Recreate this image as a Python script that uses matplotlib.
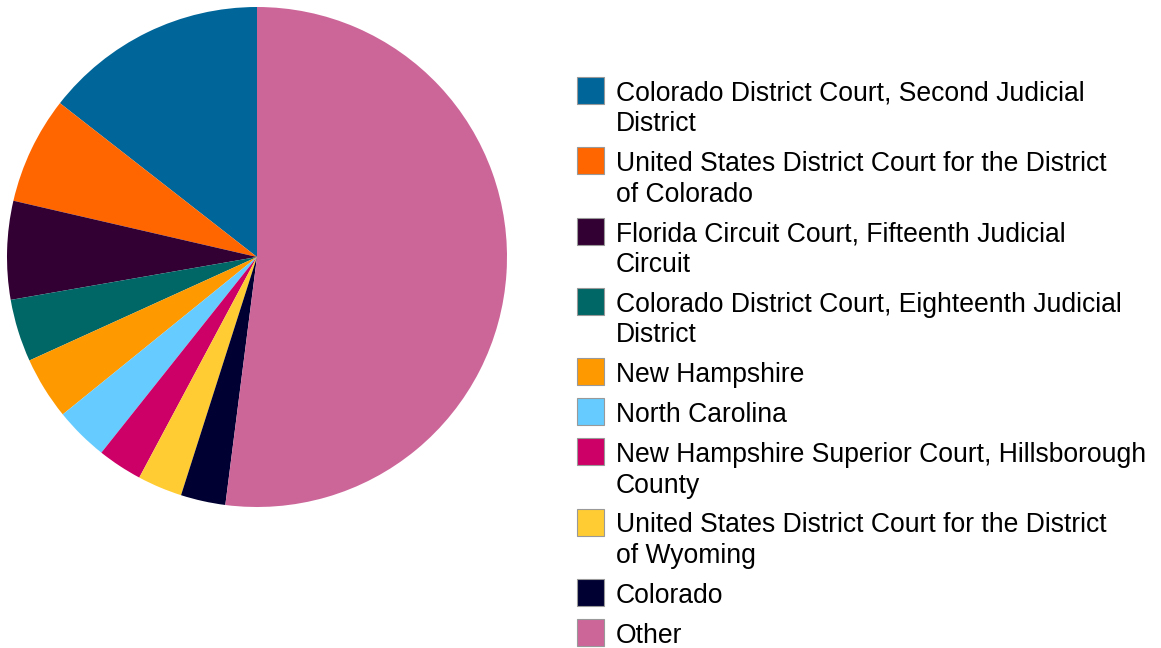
import matplotlib.pyplot as plt
from matplotlib.patches import Rectangle

# -----------------------------
# Data
# -----------------------------

labels = [
    "Colorado District Court, Second Judicial\nDistrict",
    "United States District Court for the District\nof Colorado",
    "Florida Circuit Court, Fifteenth Judicial\nCircuit",
    "Colorado District Court, Eighteenth Judicial\nDistrict",
    "New Hampshire",
    "North Carolina",
    "New Hampshire Superior Court, Hillsborough\nCounty",
    "United States District Court for the District\nof Wyoming",
    "Colorado",
    "Other",
]
counts = [25, 12, 11, 7, 7, 6, 5, 5, 5, 90]
colors = [
    "#006699", "#FF6600", "#330033", "#006666", "#FF9900",
    "#66CCFF", "#CC0066", "#FFCC33", "#000033", "#CC6699",
]

plt.rcParams["font.family"] = ["Liberation Sans", "DejaVu Sans"]

W, H = 1161, 648
fig = plt.figure(figsize=(W / 100, H / 100), dpi=100)

# -----------------------------
# Pie
# -----------------------------

ax = fig.add_axes([7 / W, (H - 507) / H, 500 / W, 500 / H])
ax.pie(counts, colors=colors, startangle=90, counterclock=True,
       wedgeprops=dict(linewidth=0))
ax.set_xlim(-1, 1)
ax.set_ylim(-1, 1)
ax.set_aspect("equal")
ax.axis("off")

# -----------------------------
# Legend (handle aligned with first line)
# -----------------------------

line_h = 30.3
gap = 9.7
y = 90.5  # pixel centre of first patch
for lab, col in zip(labels, colors):
    fig.patches.append(Rectangle((577 / W, (H - y - 13.5) / H), 27 / W, 27 / H,
                                 transform=fig.transFigure, facecolor=col,
                                 edgecolor="#999999", linewidth=0.8))
    lines = lab.split("\n")
    for i, ln in enumerate(lines):
        fig.text(616 / W, (H - (y + 10.5 + i * line_h)) / H, ln,
                 fontsize=19.1, va="baseline", ha="left", color="black")
    y += len(lines) * line_h + gap

fig.savefig("out.png", dpi=100)
